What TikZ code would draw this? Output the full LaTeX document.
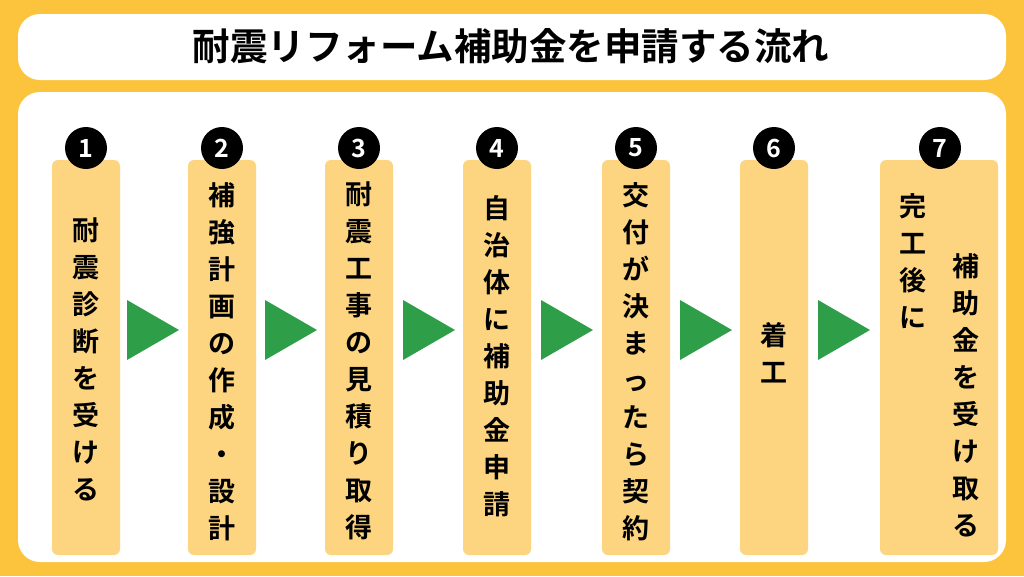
\documentclass[tikz,border=0pt]{standalone}
\usepackage{fontspec}
\setmainfont{Noto Sans CJK JP Bold}
\definecolor{bgor}{HTML}{FBC43C}
\definecolor{colbox}{HTML}{FDD581}
\definecolor{arrgreen}{HTML}{2E9E48}
\tikzset{
 colrect/.style={fill=colbox,rounded corners=6pt},
 numc/.style={circle,fill=black,text=white,minimum size=42pt,inner sep=0pt,font=\fontsize{25}{25}\selectfont},
 vtext/.style={align=center,inner sep=0pt,font=\fontsize{27}{37}\selectfont,anchor=north},
 garrow/.style={fill=arrgreen}
}
\begin{document}
\begin{tikzpicture}[x=1pt,y=-1pt]
\useasboundingbox (0,0) rectangle (1024,576);
\fill[bgor] (0,0) rectangle (1024,576);
\fill[white,rounded corners=22pt] (18,14) rectangle (1006,80);
\node (title) at (511,46) {\fontsize{37.5}{38}\selectfont 耐震リフォーム補助金を申請する流れ};
\fill[white,rounded corners=22pt] (18,92) rectangle (1006,562);
\foreach \cx/\n in {86/1,222/2,359/3,497/4,636/5,774/6}{
 \fill[colrect] (\cx-34,160) rectangle (\cx+34,555);
 \node[numc] (n\n) at (\cx,148) {\n};
}
\fill[colrect] (880,160) rectangle (998,555);
\node[numc] (n7) at (940,148) {7};
\foreach \ax in {127,265,403,541,680,818}{
 \fill[garrow] (\ax,300) -- (\ax+52,330) -- (\ax,360) -- cycle;
}
\node[vtext] (t1) at (86,218) {耐\\震\\診\\断\\を\\受\\け\\る};
\node[vtext] (t2) at (222,182) {補\\強\\計\\画\\の\\作\\成\\・\\設\\計};
\node[vtext] (t3) at (359,182) {耐\\震\\工\\事\\の\\見\\積\\り\\取\\得};
\node[vtext] (t4) at (497,195) {自\\治\\体\\に\\補\\助\\金\\申\\請};
\node[vtext] (t5) at (636,182) {交\\付\\が\\決\\ま\\っ\\た\\ら\\契\\約};
\node[vtext] (t6) at (774,322) {着\\工};
\node[vtext] (t7a) at (913,193) {完\\工\\後\\に};
\node[vtext] (t7b) at (966,253) {補\\助\\金\\を\\受\\け\\取\\る};
\end{tikzpicture}
\end{document}
